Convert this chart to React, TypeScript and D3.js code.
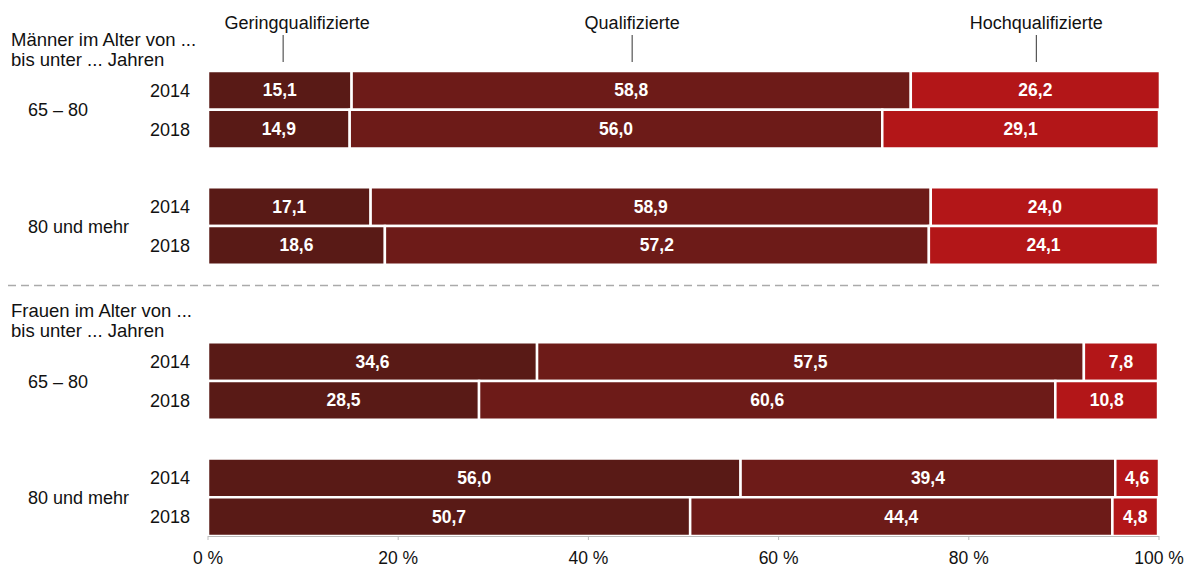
import React from "react";
import * as d3 from "d3";

const W = 1194;
const H = 565;

const segments = ["Geringqualifizierte", "Qualifizierte", "Hochqualifizierte"];
const segmentColors = ["#591a16", "#6d1b18", "#b31618"];
const headerMarks = [7.9, 44.6, 87.1];

const sections = ["Männer im Alter von ...", "Frauen im Alter von ..."];
const sectionSub = "bis unter ... Jahren";
const ageGroups = ["65 – 80", "80 und mehr"];
const years = ["2014", "2018"];

const maenner6580 = [
  [15.1, 58.8, 26.2],
  [14.9, 56.0, 29.1],
];
const maenner80 = [
  [17.1, 58.9, 24.0],
  [18.6, 57.2, 24.1],
];
const frauen6580 = [
  [34.6, 57.5, 7.8],
  [28.5, 60.6, 10.8],
];
const frauen80 = [
  [56.0, 39.4, 4.6],
  [50.7, 44.4, 4.8],
];

const xTicks = [0, 20, 40, 60, 80, 100];

const FONT = "'Liberation Sans', Arial, Helvetica, sans-serif";

export default function App() {
  const x = d3.scaleLinear().domain([0, 100]).range([208, 1159]);
  const y = d3
    .scaleBand<number>()
    .domain(d3.range(12))
    .range([71, 536])
    .padding(0);

  const groups = [maenner6580, maenner80, frauen6580, frauen80];
  const rows: { slot: number; values: number[]; year: string; g: number }[] = [];
  groups.forEach((grp, g) => {
    grp.forEach((vals, i) => {
      const slot = g * 3 + i + (g >= 2 ? 1 : 0);
      rows.push({ slot, values: vals, year: years[i], g });
    });
  });

  const stack = (vals: number[]) => {
    let acc = 0;
    return vals.map((v) => {
      const s = acc;
      acc += v;
      return { x0: s, x1: acc, v };
    });
  };

  const bw = y.bandwidth();
  const fmt = (v: number) => v.toFixed(1).replace(".", ",");

  return (
    <svg
      width={W}
      height={H}
      style={{ position: "absolute", left: 0, top: 0, background: "#fff" }}
      fontFamily={FONT}
    >
      {/* header labels */}
      {segments.map((s, i) => (
        <g key={s}>
          <line
            x1={x(headerMarks[i])}
            x2={x(headerMarks[i])}
            y1={35}
            y2={62}
            stroke="#333"
            strokeWidth={1}
          />
          <text
            x={x(headerMarks[i]) + (i === 0 ? 14 : 0)}
            y={28.5}
            textAnchor="middle"
            fontSize={18}
            fill="#111"
          >
            {s}
          </text>
        </g>
      ))}

      {/* section titles */}
      {sections.map((s, i) => (
        <text key={s} x={11} y={i === 0 ? 46 : 317} fontSize={18.5} fill="#111">
          <tspan x={11}>{s}</tspan>
          <tspan x={11} dy={19.5}>
            {sectionSub}
          </tspan>
        </text>
      ))}

      {/* separator */}
      <line
        x1={8}
        x2={1159}
        y1={285.5}
        y2={285.5}
        stroke="#aaa"
        strokeWidth={1.5}
        strokeDasharray="8,5"
      />

      {/* age group labels */}
      {[0, 1, 2, 3].map((g) => {
        const slot = g * 3 + (g >= 2 ? 1 : 0);
        const cy = y(slot)! + bw;
        return (
          <text key={g} x={28} y={cy + 6.5} fontSize={18} fill="#111">
            {ageGroups[g % 2]}
          </text>
        );
      })}

      {/* bars */}
      {rows.map((r, ri) => {
        const top = y(r.slot)!;
        const segs = stack(r.values);
        return (
          <g key={ri}>
            <text
              x={190}
              y={top + bw / 2 + 6.5}
              textAnchor="end"
              fontSize={18}
              fill="#111"
            >
              {r.year}
            </text>
            {segs.map((s, si) => (
              <rect
                key={si}
                x={x(s.x0)}
                y={top}
                width={x(s.x1) - x(s.x0)}
                height={bw}
                fill={segmentColors[si]}
                stroke="#fff"
                strokeWidth={2.5}
              />
            ))}
            {segs.map((s, si) => (
              <text
                key={"t" + si}
                x={(x(s.x0) + x(s.x1)) / 2}
                y={top + bw / 2 + 6}
                textAnchor="middle"
                fontSize={17.5}
                fontWeight="bold"
                fill="#fff"
              >
                {fmt(s.v)}
              </text>
            ))}
          </g>
        );
      })}

      {/* x axis */}
      <line x1={x(0)} x2={x(100)} y1={536.5} y2={536.5} stroke="#bbb" strokeWidth={1} />
      {xTicks.map((t) => (
        <g key={t}>
          <line x1={x(t)} x2={x(t)} y1={536} y2={540} stroke="#bbb" strokeWidth={1} />
          <text x={x(t)} y={563.5} textAnchor="middle" fontSize={17.5} fill="#111">
            {t} %
          </text>
        </g>
      ))}
    </svg>
  );
}
